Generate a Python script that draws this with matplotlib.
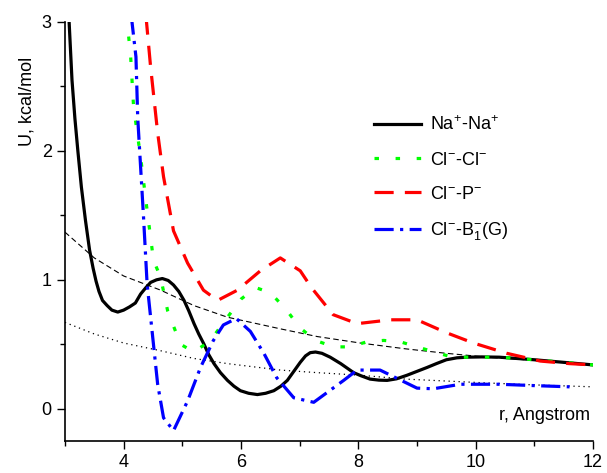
import numpy as np
import matplotlib.pyplot as plt
from matplotlib.ticker import MultipleLocator

plt.rcParams['font.family'] = ['Liberation Sans', 'DejaVu Sans']
plt.rcParams['mathtext.default'] = 'regular'

# Na+ - Na+ potential of mean force
r_na = [3.04, 3.07, 3.12, 3.17, 3.22, 3.28, 3.35, 3.42, 3.48, 3.53, 3.58, 3.64,
        3.72, 3.80, 3.90, 4.00, 4.10, 4.20, 4.29, 4.38, 4.46, 4.56, 4.66, 4.76,
        4.85, 4.94, 5.03, 5.11, 5.20, 5.28, 5.37, 5.45, 5.54, 5.65, 5.77, 5.88,
        5.99, 6.13, 6.28, 6.42, 6.56, 6.68, 6.79, 6.90, 7.01, 7.10, 7.18, 7.27,
        7.38, 7.52, 7.70, 7.92, 8.05, 8.20, 8.35, 8.49, 8.65, 8.83, 9.00, 9.17,
        9.33, 9.50, 9.68, 9.85, 10.1, 10.4, 11.0, 11.5, 12.0]
u_na = [3.30, 3.01, 2.55, 2.25, 2.00, 1.72, 1.46, 1.23, 1.09, 0.99, 0.91, 0.84,
        0.80, 0.765, 0.75, 0.765, 0.79, 0.82, 0.89, 0.94, 0.98, 1.00, 1.01, 0.995,
        0.96, 0.91, 0.84, 0.76, 0.66, 0.58, 0.50, 0.42, 0.35, 0.28, 0.22, 0.175,
        0.14, 0.12, 0.11, 0.12, 0.14, 0.175, 0.22, 0.29, 0.36, 0.41, 0.435, 0.44,
        0.43, 0.40, 0.35, 0.28, 0.255, 0.23, 0.222, 0.22, 0.232, 0.26, 0.29, 0.32,
        0.35, 0.38, 0.395, 0.40, 0.402, 0.40, 0.38, 0.36, 0.34]

# Cl- - Cl-
r_cl = [4.05, 4.12, 4.17, 4.29, 4.40, 4.51, 4.63, 4.75, 4.97, 5.20, 5.48, 5.77,
        6.00, 6.25, 6.50, 6.77, 7.00, 7.27, 7.58, 7.86, 8.15, 8.43, 8.71, 9.00,
        9.30, 9.60, 9.88, 10.4, 11.0, 11.5, 12.0]
u_cl = [3.05, 2.73, 2.34, 1.95, 1.54, 1.15, 1.02, 0.76, 0.50, 0.44, 0.53, 0.71,
        0.85, 0.94, 0.90, 0.77, 0.63, 0.53, 0.48, 0.48, 0.52, 0.53, 0.52, 0.48,
        0.44, 0.40, 0.40, 0.40, 0.38, 0.36, 0.34]

# Cl- - P-
r_p = [4.38, 4.46, 4.58, 4.68, 4.85, 5.09, 5.36, 5.60, 5.94, 6.33, 6.67, 7.01,
       7.20, 7.57, 7.98, 8.55, 9.00, 9.50, 9.96, 10.53, 11.1, 11.6, 12.0]
u_p = [3.05, 2.65, 2.14, 1.80, 1.38, 1.13, 0.92, 0.84, 0.92, 1.07, 1.17, 1.07,
       0.94, 0.73, 0.66, 0.69, 0.69, 0.59, 0.51, 0.43, 0.37, 0.35, 0.34]

# Cl- - B1-(G)
r_b = [4.13, 4.21, 4.24, 4.29, 4.34, 4.40, 4.49, 4.58, 4.68, 4.85, 5.09, 5.31,
       5.53, 5.70, 5.92, 6.16, 6.39, 6.61, 6.90, 7.24, 7.75, 7.98, 8.37, 8.55,
       9.00, 9.28, 9.74, 10.4, 10.97, 11.6]
u_b = [3.05, 2.73, 2.26, 1.87, 1.48, 0.97, 0.58, 0.19, -0.07, -0.17, 0.06, 0.32,
       0.53, 0.65, 0.70, 0.60, 0.43, 0.24, 0.085, 0.05, 0.22, 0.30, 0.30, 0.26,
       0.16, 0.155, 0.19, 0.19, 0.18, 0.17]

# thin reference curves
r_ref = [3.0, 3.5, 4.0, 4.63, 5.2, 5.77, 6.67, 7.3, 8.03, 8.8, 9.5, 10.2, 11.0, 12.0]
u_dash = [1.37, 1.17, 1.03, 0.92, 0.80, 0.71, 0.62, 0.56, 0.51, 0.465, 0.43, 0.40, 0.375, 0.34]
u_dot = [0.67, 0.58, 0.51, 0.45, 0.39, 0.35, 0.30, 0.28, 0.26, 0.23, 0.215, 0.20, 0.185, 0.17]

fig = plt.figure(figsize=(6.07, 4.73), dpi=100)
ax = fig.add_axes([0.107, 0.0677, 0.870, 0.8858])

ax.plot(r_ref, u_dash, color='black', lw=0.8, linestyle=(0, (5, 3)))
ax.plot(r_ref, u_dot, color='black', lw=0.9, linestyle=(0, (1, 3)))

ax.plot(r_na, u_na, color='black', lw=2.3, label=r'Na$^{+}$-Na$^{+}$')
ax.plot(r_cl, u_cl, color='#00ff00', lw=2.3, linestyle=(0, (1.4, 5.2)),
        label=r'Cl$^{-}$-Cl$^{-}$')
ax.plot(r_p, u_p, color='red', lw=2.3, linestyle=(0, (6, 3.5)),
        label=r'Cl$^{-}$-P$^{-}$')
ax.plot(r_b, u_b, color='blue', lw=2.3, linestyle=(0, (6, 2, 1, 2)),
        label=r'Cl$^{-}$-B$_{1}^{-}$(G)')

ax.set_xlim(3, 12)
ax.set_ylim(-0.25, 3)
ax.xaxis.set_minor_locator(MultipleLocator(1))
ax.yaxis.set_major_locator(MultipleLocator(1))
ax.yaxis.set_minor_locator(MultipleLocator(0.5))
ax.set_xticks([4, 6, 8, 10, 12])
ax.tick_params(which='major', direction='out', length=6, width=1, labelsize=13)
ax.tick_params(which='minor', direction='out', length=3.5, width=1)
for side in ['top', 'right']:
    ax.spines[side].set_visible(False)
for side in ['left', 'bottom']:
    ax.spines[side].set_linewidth(1.2)

ax.set_ylabel('U, kcal/mol', fontsize=13)
ax.yaxis.set_label_coords(-0.055, 0.81)
ax.text(11.95, -0.05, 'r, Angstrom', fontsize=13, ha='right', va='center')

ax.legend(loc='upper left', bbox_to_anchor=(0.555, 0.815), frameon=False,
          fontsize=13, handlelength=2.6, handletextpad=0.5, labelspacing=0.95)

fig.savefig('out.png', dpi=100)
